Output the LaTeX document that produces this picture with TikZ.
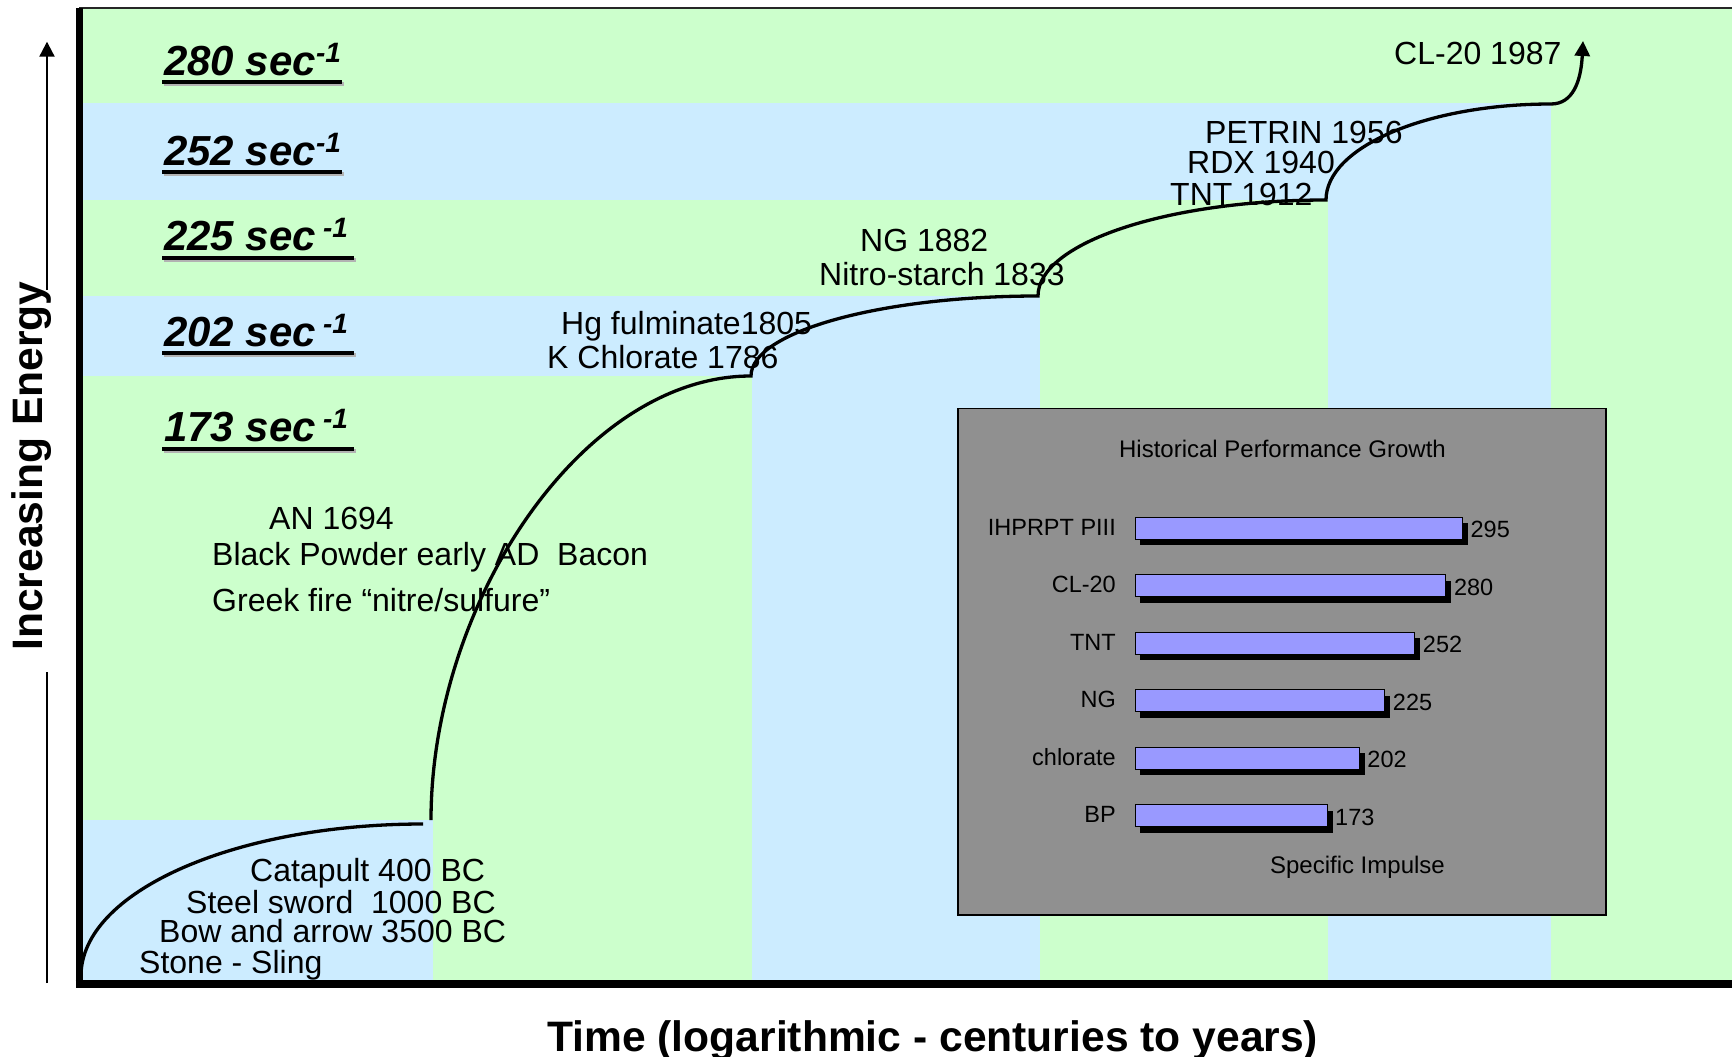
\documentclass[tikz,border=0pt]{standalone}
\usepackage{fontspec}
\setmainfont{Liberation Sans}
\usetikzlibrary{arrows.meta}
\definecolor{bandgreen}{HTML}{CCFFCC}
\definecolor{bandblue}{HTML}{CCECFF}
\definecolor{panelgrey}{HTML}{909090}
\definecolor{barblue}{HTML}{9999FF}
\newcommand\mysup[1]{\raisebox{13pt}{\fontsize{28}{30}\selectfont #1}}
\begin{document}
\begin{tikzpicture}[x=1pt,y=-1pt,
  evt/.style={anchor=base west, inner sep=0pt, font=\fontsize{32}{38}\selectfont},
  isp/.style={anchor=base west, inner xsep=2pt, inner ysep=0pt, font=\fontsize{42}{48}\selectfont\bfseries\itshape},
  ul/.style={line width=4pt},
  ulshadow/.style={line width=4pt, black!30},
  growth/.style={line width=3.3pt},
  axislabel/.style={font=\fontsize{42.6}{48}\selectfont\bfseries, inner sep=0pt},
  chartlbl/.style={font=\fontsize{23.5}{28}\selectfont, inner sep=0pt},
  bar/.style={draw=black, line width=1pt, fill=barblue},
  axisline/.style={line width=2.2pt},
]
\useasboundingbox (0,0) rectangle (1732,1057);
\fill[white] (0,0) rectangle (1732,1057);

% background bands and columns
\fill[bandgreen] (79,8) rectangle (1732,984);
\fill[bandblue] (79,103) rectangle (1551,200);
\fill[bandblue] (1328,200) rectangle (1551,984);
\fill[bandblue] (79,296) rectangle (1040,376);
\fill[bandblue] (752,376) rectangle (1040,984);
\fill[bandblue] (79,820) rectangle (433,984);

% frame and axes
\draw[line width=2pt, black!85] (79,8.5) -- (1732,8.5);
\draw[line width=7pt] (79,8) -- (79,988);
\draw[line width=8pt] (75.5,984) -- (1732,984);

% specific impulse labels
\node[isp] (s280) at (162,75) {280 sec\mysup{-1}};
\node[isp] (s252) at (162,165) {252 sec\mysup{-1}};
\node[isp] (s225) at (162,250.7) {225 sec\hspace{7pt}\mysup{-1}};
\node[isp] (s202) at (162,346) {202 sec\hspace{7pt}\mysup{-1}};
\node[isp] (s173) at (162,441.5) {173 sec\hspace{7pt}\mysup{-1}};
\foreach \n/\len in {s280/180, s252/180, s225/192, s202/192, s173/192} {
  \draw[ulshadow] ([xshift=2pt,yshift=-9pt]\n.base west) -- ++(\len,0);
  \draw[ul] ([yshift=-7pt]\n.base west) -- ++(\len,0);
}

% timeline texts
\node[evt] (cl20) at (1394,65) {CL-20 1987};
\node[evt] (petrin) at (1205,143) {PETRIN 1956};
\node[evt] (rdx) at (1187,173) {RDX 1940};
\node[evt] (tnt) at (1170,205) {TNT 1912};
\node[evt] (ng) at (860,251) {NG 1882};
\node[evt] (nitro) at (819,285) {Nitro-starch 1833};
\node[evt] (hg) at (561,334) {Hg fulminate1805};
\node[evt] (kcl) at (547,368) {K Chlorate 1786};
\node[evt] (an) at (269,529) {AN 1694};
\node[evt] (bpow) at (212,565.5) {Black Powder early AD\ \ Bacon};
\node[evt] (greek) at (212,611) {Greek fire “nitre/sulfure”};
\node[evt] (cat) at (250,881) {Catapult 400 BC};
\node[evt] (sword) at (186,913) {Steel sword\ \ 1000 BC};
\node[evt] (bow) at (159,942) {Bow and arrow 3500 BC};
\node[evt] (stone) at (139,973) {Stone - Sling};

% growth curve
\coordinate (k0) at (81,976);
\coordinate (k1) at (423,824);
\coordinate (k2) at (431,820);
\coordinate (k3) at (751,376);
\coordinate (k4) at (1038,296);
\coordinate (k5) at (1326,200);
\coordinate (k6) at (1551,104);
\coordinate (k7) at (1583,41);
\draw[growth] (k0) .. controls +(0,-84) and +(-189,0) .. (k1);
\draw[growth, -{Triangle[length=15pt,width=15pt]}] (k2)
  .. controls +(0,-215) and +(-170,0) .. (k3)
  .. controls +(0,-44) and +(-158,0) .. (k4)
  .. controls +(0,-53) and +(-159,0) .. (k5)
  .. controls +(0,-53) and +(-124,0) .. (k6)
  .. controls +(22,0) and +(-2,40) .. (k7);

% vertical axis arrow and labels
\coordinate (ya0) at (47,983);
\coordinate (ya1) at (47,672);
\coordinate (ya2) at (47,290);
\coordinate (ya3) at (47,41.7);
\draw[axisline] (ya0) -- (ya1);
\draw[axisline, -{Triangle[length=15pt,width=15pt]}] (ya2) -- (ya3);
\node[axislabel, rotate=90, anchor=base] (ylab) at (42.7,466) {Increasing Energy};
\node[axislabel, anchor=base west] (xlab) at (547,1051) {Time (logarithmic - centuries to years)};

% inset chart
\filldraw[fill=panelgrey, draw=black, line width=1.5pt] (958,408.5) rectangle (1606,915);
\node[chartlbl, font=\fontsize{24}{28}\selectfont, anchor=base] (ptitle) at (1282.5,457.3) {Historical Performance Growth};
\foreach \i/\nm/\v in {0/IHPRPT PIII/295, 1/CL-20/280, 2/TNT/252, 3/NG/225, 4/chlorate/202, 5/BP/173} {
  \pgfmathsetmacro\yt{517.3+57.5*\i}
  \pgfmathsetmacro\yb{\yt+22}
  \pgfmathsetmacro\xr{1135+1.11*\v}
  \fill[black] (1140,\yt+6) rectangle (\xr+5.5,\yb+6);
  \draw[bar] (1135,\yt) rectangle (\xr,\yb);
  \node[chartlbl, anchor=base east] (cat\i) at (1116,\yb-4) {\nm};
  \node[chartlbl, anchor=base west] (val\i) at (\xr+8,\yb-1.5) {\v};
}
\node[chartlbl, font=\fontsize{24}{28}\selectfont, anchor=base east] (xunit) at (1445,873) {Specific Impulse};
\end{tikzpicture}
\end{document}
